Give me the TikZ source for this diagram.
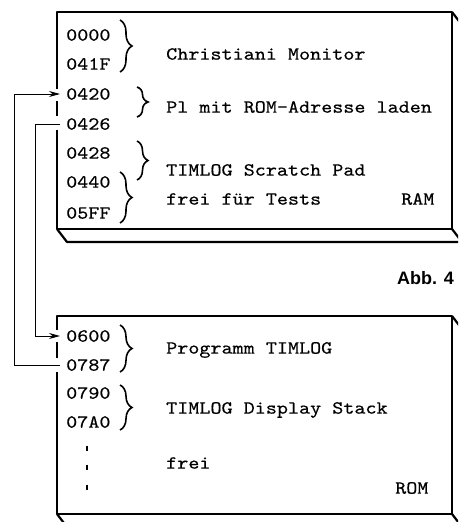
\documentclass[tikz,border=0pt]{standalone}
\usepackage{fontspec}
\setmonofont{lmmono10-regular.otf}[FakeStretch=1.14,FakeBold=0.4]
\setsansfont{Liberation Sans}
\usetikzlibrary{arrows.meta,decorations.pathreplacing}

\begin{document}
\begin{tikzpicture}[
  x=1pt, y=-1pt,
  every node/.style={font=\fontsize{18.5}{20}\selectfont\ttfamily},
  addr/.style={anchor=west, inner xsep=6pt, inner ysep=0pt},
  lbl/.style={anchor=west, inner sep=0pt},
  frame/.style={line width=2.2pt, line join=round},
  brace/.style={decorate, decoration={brace, amplitude=#1}, line width=1.6pt},
  brace/.default=12pt,
  link/.style={line width=0.9pt},
  arrow/.style={link, -{Stealth[length=11pt,width=6pt]}}
]
  \useasboundingbox (0,0) rectangle (458,522);
  \clip (0,0) rectangle (458,522);

  % RAM block
  \draw[frame] (57,89) -- (57,12) -- (452,12) -- (452,229) -- (57,229) -- (57,130);
  \draw[frame] (57,101) -- (57,116);
  \draw[frame] (57,229) -- (67,242) -- (464,242) (452,229) -- (462,242) (452,12) -- (462,25);

  \node[addr] (a0000) at (60,35) {0000};
  \node[addr] (a041F) at (60,64) {041F};
  \node[addr] (a0420) at (60,94) {0420};
  \node[addr] (a0426) at (60,124) {0426};
  \node[addr] (a0428) at (60,153) {0428};
  \node[addr] (a0440) at (60,182) {0440};
  \node[addr] (a05FF) at (60,213) {05FF};

  \draw[brace] (120,20) -- (120,72);
  \draw[brace=11pt] (137,87) -- (137,117);
  \draw[brace=11pt] (137,141) -- (137,180);
  \draw[brace] (120,172) -- (120,223);

  \node[lbl] (monitor) at (166,54) {Christiani Monitor};
  \node[lbl] (laden) at (166,107) {Pl mit ROM-Adresse laden};
  \node[lbl] (scratch) at (166,170) {TIMLOG Scratch Pad};
  \node[lbl] (tests) at (166,199) {frei für Tests};
  \node[lbl] (ram) at (401,199) {RAM};

  \node[lbl, font=\fontsize{18}{20}\selectfont\sffamily\bfseries] (abb) at (397,278) {Abb. 4};

  % ROM block
  \draw[frame] (57,330) -- (57,316) -- (452,316) -- (452,514) -- (57,514) -- (57,372);
  \draw[frame] (57,342) -- (57,358);
  \draw[frame] (57,514) -- (67,527) -- (464,527) (452,514) -- (462,527) (452,316) -- (462,329);

  \node[addr] (a0600) at (60,336) {0600};
  \node[addr] (a0787) at (60,365) {0787};
  \node[addr] (a0790) at (60,393) {0790};
  \node[addr] (a07A0) at (60,422) {07A0};
  \foreach \y in {448,467,487}
    \draw[line width=1.5pt] (87,\y-2.5) -- (87,\y+2.5);

  \draw[brace] (120,325) -- (120,372);
  \draw[brace] (120,385) -- (120,430);

  \node[lbl] (prog) at (166,350) {Programm TIMLOG};
  \node[lbl] (stack) at (166,410) {TIMLOG Display Stack};
  \node[lbl] (frei) at (166,463) {frei};
  \node[lbl] (rom) at (395,488) {ROM};

  % jumps between the blocks
  \draw[arrow] (a0787.west) -- ++(-46,0) |- (a0420.west);
  \draw[arrow] (a0426.west) -- ++(-25,0) |- (a0600.west);
\end{tikzpicture}
\end{document}
